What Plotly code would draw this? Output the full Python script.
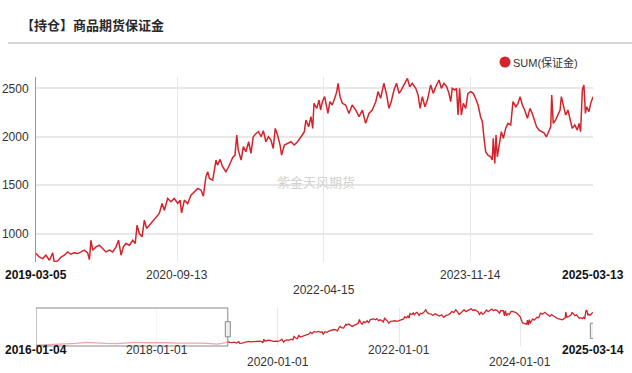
import pandas as pd
import plotly.graph_objects as go

# ---------------- data ----------------
title_text = "【持仓】商品期货保证金"
series_name = "SUM(保证金)"
watermark = "紫金天风期货"

main_start = "2019-03-05"
main_end = "2025-03-13"
nav_start = "2016-01-04"
nav_end = "2025-03-14"

# history shown only in the navigator (before the selected window)
hist_dates = ["2016-01-04", "2016-03-01", "2016-05-03", "2016-07-01", "2016-09-01",
              "2016-11-01", "2017-01-03", "2017-03-01", "2017-05-02", "2017-07-03",
              "2017-09-01", "2017-11-01", "2018-01-02", "2018-03-01", "2018-05-02",
              "2018-07-02", "2018-09-03", "2018-11-01", "2019-01-02", "2019-02-20"]
hist_values = [600, 620, 650, 670, 700, 760, 720, 700, 690, 730,
               760, 740, 760, 740, 720, 730, 720, 700, 660, 740]

# selected window: day offsets from main_start and the margin values
day_offsets = [0, 13, 26, 39, 53, 66, 72, 86, 99, 112, 125, 138, 151, 165, 178, 191, 204, 211, 217, 224,
               237, 250, 263, 276, 290, 303, 316, 326, 336, 345, 355, 369, 382, 392, 399, 408, 419, 428, 437, 448,
               461, 474, 487, 498, 507, 520, 533, 546, 560, 569, 575, 586, 599, 612, 625, 639, 652, 661, 671, 678,
               685, 698, 711, 717, 727, 737, 750, 761, 777, 786, 793, 799, 810, 819, 829, 840, 849, 858, 869, 879,
               889, 898, 908, 918, 928, 937, 945, 954, 964, 970, 981, 994, 1007, 1020, 1033, 1047, 1060, 1066, 1077, 1086,
               1093, 1098, 1109, 1118, 1124, 1131, 1140, 1148, 1153, 1161, 1170, 1180, 1188, 1193, 1201, 1210, 1223, 1236, 1249, 1263,
               1276, 1289, 1302, 1315, 1328, 1342, 1351, 1361, 1374, 1385, 1394, 1403, 1414, 1424, 1434, 1443, 1453, 1467, 1476, 1486,
               1500, 1509, 1517, 1526, 1536, 1546, 1559, 1569, 1579, 1592, 1601, 1611, 1622, 1631, 1638, 1644, 1654, 1661, 1667, 1673,
               1680, 1688, 1697, 1706, 1717, 1727, 1736, 1746, 1756, 1763, 1769, 1776, 1785, 1796, 1802, 1806, 1812, 1817, 1822, 1830,
               1838, 1846, 1855, 1864, 1875, 1884, 1895, 1904, 1912, 1921, 1930, 1941, 1951, 1960, 1970, 1977, 1987, 1996, 2006, 2016,
               2024, 2033, 2037, 2043, 2052, 2062, 2070, 2075, 2083, 2092, 2101, 2109, 2118, 2128, 2138, 2145, 2151, 2158, 2164, 2170,
               2175, 2184, 2191, 2200]
values = [793, 758, 741, 776, 724, 800, 707, 717, 758, 776, 810, 786, 800, 793, 810, 828, 800, 731, 931, 828,
          862, 879, 845, 810, 828, 810, 862, 931, 776, 862, 897, 879, 931, 897, 1086, 1000, 966, 1138, 1052, 1086,
          1121, 1172, 1207, 1310, 1241, 1362, 1328, 1362, 1310, 1345, 1214, 1345, 1310, 1397, 1431, 1466, 1448, 1386, 1586, 1638,
          1569, 1552, 1759, 1707, 1766, 1690, 1638, 1690, 1786, 1810, 2017, 1862, 1759, 1897, 1845, 1948, 1828, 2000, 2034, 2052,
          2000, 2062, 1948, 2000, 1966, 1879, 2086, 2017, 1914, 1810, 1914, 1931, 1948, 1914, 1948, 2000, 2052, 2172, 2103, 2207,
          2086, 2345, 2293, 2379, 2276, 2362, 2414, 2310, 2241, 2362, 2328, 2397, 2466, 2552, 2414, 2345, 2328, 2241, 2328, 2276,
          2207, 2276, 2138, 2241, 2276, 2362, 2466, 2397, 2552, 2431, 2293, 2362, 2483, 2552, 2448, 2483, 2535, 2603, 2517, 2552,
          2500, 2431, 2293, 2414, 2310, 2379, 2535, 2448, 2517, 2586, 2500, 2552, 2517, 2448, 2362, 2500, 2483, 2500, 2224, 2500,
          2224, 2345, 2293, 2448, 2466, 2448, 2397, 2328, 2207, 2155, 2000, 1845, 1810, 1793, 1759, 1983, 1724, 2017, 1793, 1948,
          2052, 1983, 2086, 2138, 2121, 2362, 2310, 2345, 2414, 2328, 2276, 2190, 2293, 2241, 2172, 2103, 2069, 2052, 2041, 2000,
          2052, 2103, 2431, 2138, 2172, 2224, 2276, 2414, 2310, 2224, 2276, 2172, 2086, 2121, 2069, 2138, 2052, 2483, 2535, 2241,
          2310, 2259, 2345, 2414]

main_ticks = ["2019-03-05", "2020-09-13", "2022-04-15", "2023-11-14", "2025-03-13"]
main_tick_row = [0, 0, 1, 0, 0]
main_tick_bold = [True, False, False, False, True]
nav_ticks = ["2016-01-04", "2018-01-01", "2020-01-01", "2022-01-01", "2024-01-01", "2025-03-14"]
nav_tick_row = [0, 0, 1, 0, 1, 0]
nav_tick_bold = [True, False, False, False, False, True]
y_ticks = [1000, 1500, 2000, 2500]

# ---------------- build ----------------
main_dates = pd.Timestamp(main_start) + pd.to_timedelta(day_offsets, unit="D")
all_dates = list(pd.to_datetime(hist_dates)) + list(main_dates)
all_values = hist_values + values

W, H = 632, 373
RED = "#d3242c"
NARROW = "Liberation Sans Narrow, Arial Narrow, Liberation Sans, Arial, sans-serif"
CJK = "Noto Sans CJK SC, Noto Sans, sans-serif"


def px(x):
    return x / W


def py(y):
    return 1 - y / H


fig = go.Figure()
fig.add_trace(go.Scatter(x=all_dates, y=all_values, mode="lines", name=series_name,
                         line=dict(color=RED, width=1.5), xaxis="x", yaxis="y",
                         hoverinfo="x+y"))
fig.add_trace(go.Scatter(x=all_dates, y=all_values, mode="lines", name=series_name,
                         line=dict(color=RED, width=1.3), xaxis="x2", yaxis="y2",
                         showlegend=False, hoverinfo="skip"))

annotations = []
for d, row, b in zip(main_ticks, main_tick_row, main_tick_bold):
    annotations.append(dict(x=d, xref="x", y=py(275 + 15 * row), yref="paper",
                            text=f"<b>{d}</b>" if b else d, showarrow=False,
                            xanchor="center", yanchor="middle",
                            font=dict(family=NARROW, size=12, color="#111" if b else "#333")))
for d, row, b in zip(nav_ticks, nav_tick_row, nav_tick_bold):
    annotations.append(dict(x=d, xref="x2", y=py(350 + 12 * row), yref="paper",
                            text=f"<b>{d}</b>" if b else d, showarrow=False,
                            xanchor="center", yanchor="middle",
                            font=dict(family=NARROW, size=12, color="#111" if b else "#333")))
annotations.append(dict(x=px(19), y=py(24), xref="paper", yref="paper", text=f"<b>{title_text}</b>",
                        showarrow=False, xanchor="left", yanchor="middle",
                        font=dict(family=CJK, size=13, color="#2a2a2a")))
annotations.append(dict(x=px(511), y=py(62), xref="paper", yref="paper", text=series_name,
                        showarrow=False, xanchor="left", yanchor="middle",
                        font=dict(family=NARROW + ", " + CJK, size=11, color="#333")))
annotations.append(dict(x=px(316), y=py(181), xref="paper", yref="paper", text=watermark,
                        showarrow=False, xanchor="center", yanchor="middle",
                        font=dict(family=CJK, size=13, color="#d2d2d2")))

shapes = [
    # title separator
    dict(type="line", xref="paper", yref="paper", x0=px(8), x1=1, y0=py(43), y1=py(43),
         line=dict(color="#c8c8c8", width=1.5)),
    # legend dot
    dict(type="circle", xref="paper", yref="paper", xsizemode="pixel", ysizemode="pixel",
         xanchor=px(505), yanchor=py(62), x0=-5.5, x1=5.5, y0=-5.5, y1=5.5,
         fillcolor=RED, line=dict(width=0)),
    # navigator mask over unselected part
    dict(type="rect", xref="x2", yref="y2 domain", x0=nav_start, x1=main_start, y0=0, y1=1,
         fillcolor="rgba(255,255,255,0.6)", line=dict(color="#8a8a8a", width=1), layer="above"),
    # handles
    dict(type="rect", xref="x2", yref="y2 domain", xsizemode="pixel", xanchor=main_start,
         x0=-2.5, x1=2.5, y0=0.24, y1=0.64, fillcolor="#efefef",
         line=dict(color="#888", width=1), layer="above"),
    dict(type="rect", xref="x2", yref="y2 domain", xsizemode="pixel", xanchor=main_end,
         x0=-2.5, x1=2.5, y0=0.2, y1=0.6, fillcolor="#efefef",
         line=dict(color="#888", width=1), layer="above"),
]

fig.update_layout(
    width=W, height=H, margin=dict(l=0, r=0, t=0, b=0),
    paper_bgcolor="white", plot_bgcolor="white", showlegend=False,
    xaxis=dict(domain=[px(36), px(593)], range=[main_start, main_end], type="date",
               tickvals=main_ticks, showticklabels=False, showgrid=True, gridcolor="#e8e8e8",
               gridwidth=1, zeroline=False, showline=False, anchor="y", fixedrange=True),
    yaxis=dict(domain=[py(262), py(77)], range=[706, 2617], tickvals=y_ticks,
               showgrid=True, gridcolor="#e8e8e8", gridwidth=1.5, zeroline=False,
               showline=True, linecolor="#999", linewidth=1, ticks="", ticklabelstandoff=4,
               tickfont=dict(family=NARROW, size=12, color="#333"), anchor="x", fixedrange=True),
    xaxis2=dict(domain=[px(36), px(593)], range=[nav_start, nav_end], type="date",
                tickvals=nav_ticks, showticklabels=False, showgrid=True, gridcolor="#e8e8e8",
                zeroline=False, showline=False, anchor="y2", fixedrange=True),
    yaxis2=dict(domain=[py(346), py(308)], range=[560, 2650], showgrid=False,
                showticklabels=False, zeroline=False, showline=False, anchor="x2", fixedrange=True),
    annotations=annotations, shapes=shapes,
)

fig.write_html("out.html", config={"displayModeBar": False},
               post_script="document.body.style.margin='0';document.body.style.padding='0';"
                           "document.body.style.overflow='hidden';")
